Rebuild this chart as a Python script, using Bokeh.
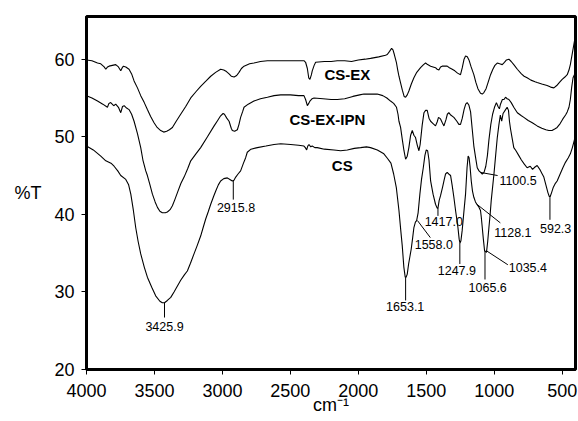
from bokeh.plotting import figure
from bokeh.models import Range1d, FixedTicker, ColumnDataSource
from bokeh.core.properties import value
from bokeh.embed import file_html
from bokeh.resources import INLINE

# ---------------- data ----------------
cs_ex_x = [4000,3960,3919,3895,3870,3858,3845,3834,3810,3785,3765,3748,3737,3728,3711,3687,3668,3650,3625,3601,
           3575,3552,3528,3503,3480,3454,3432,3410,3390,3368,3340,3307,3270,3233,3195,3160,3120,3086,3050,3013,
           2990,2970,2951,2935,2914,2895,2878,2860,2841,2800,2768,2720,2669,2600,2500,2430,2400,2388,2375,2365,
           2356,2345,2339,2325,2314,2250,2200,2155,2100,2050,2000,1950,1910,1850,1800,1787,1770,1755,1745,1735,
           1720,1710,1701,1690,1676,1663,1652,1640,1628,1610,1591,1570,1542,1520,1505,1490,1468,1450,1432,1420,
           1407,1395,1383,1365,1346,1330,1309,1290,1270,1248,1235,1222,1211,1198,1186,1170,1150,1135,1120,1101,
           1088,1076,1060,1045,1027,1010,995,978,960,941,925,910,892,875,856,830,800,780,758,730,
           700,684,650,611,585,561,540,520,500,480,463,450,440,430,420,410,402]
cs_ex_y = [59.9,59.8,59.5,59.4,59.0,58.7,59.0,59.1,59.2,59.3,59.0,58.5,58.9,59.1,59.0,58.7,58.1,57.2,56.3,55.3,
           54.4,53.5,52.6,51.8,51.2,50.8,50.6,50.7,50.9,51.2,52.0,52.9,53.9,55.0,55.8,56.5,57.2,57.8,58.3,58.7,
           58.6,58.4,58.1,57.8,57.7,57.9,58.3,58.8,59.1,59.4,59.5,59.7,59.8,59.8,59.8,59.8,59.8,59.6,58.8,57.6,
           57.4,58.0,58.5,59.2,59.6,59.7,59.7,59.8,59.8,59.7,59.9,60.0,60.1,60.3,60.5,60.6,61.0,61.4,61.2,60.6,
           59.6,58.6,57.8,57.0,56.0,55.2,55.1,55.4,55.9,56.8,57.6,58.3,58.9,59.3,59.5,59.3,59.1,59.0,58.9,58.7,
           58.6,59.0,59.1,59.1,59.1,58.9,58.7,58.5,58.2,58.0,58.9,60.0,60.4,60.3,59.9,59.0,58.0,57.0,56.2,55.6,
           55.5,55.7,56.2,57.0,58.0,58.7,59.2,59.5,59.4,59.3,59.6,59.9,60.0,59.7,59.3,58.7,58.1,57.8,57.6,57.3,
           57.1,57.0,56.8,56.6,56.4,56.3,56.6,57.0,57.4,57.7,58.0,58.6,59.3,60.3,61.3,62.3,63.0]

ipn_x = [4000,3960,3919,3880,3846,3835,3822,3800,3785,3765,3748,3735,3723,3705,3687,3668,3650,3625,3601,3585,
         3564,3552,3533,3515,3495,3478,3460,3442,3420,3405,3385,3368,3350,3331,3305,3282,3255,3233,3195,3160,
         3110,3061,3035,3013,2995,2985,2968,2951,2935,2927,2910,2890,2878,2866,2850,2841,2810,2768,2720,2669,
         2620,2571,2500,2440,2400,2388,2375,2365,2356,2340,2326,2260,2200,2155,2100,2040,1990,1959,1900,1861,
         1820,1790,1763,1740,1719,1708,1701,1689,1676,1664,1652,1640,1628,1615,1603,1591,1579,1566,1554,1545,
         1530,1517,1505,1493,1480,1468,1450,1432,1420,1410,1395,1382,1370,1355,1345,1334,1320,1297,1275,1260,
         1248,1235,1222,1210,1199,1187,1174,1162,1150,1137,1125,1112,1100,1088,1075,1062,1050,1039,1025,1012,
         998,984,972,962,954,940,928,917,905,892,875,856,830,800,782,750,720,684,650,620,
         598,575,555,537,515,495,475,463,450,440,430,420,410,402]
ipn_y = [55.3,55.0,54.6,54.2,53.8,54.3,54.4,54.0,54.2,53.8,53.1,53.9,54.0,53.7,53.5,52.9,52.0,50.4,48.6,47.0,
         45.6,45.0,43.8,42.6,41.6,40.9,40.4,40.2,40.2,40.3,40.6,41.1,41.9,42.8,44.0,44.8,45.9,46.9,47.8,48.6,
         50.0,51.4,52.1,52.7,53.0,52.9,52.4,52.0,51.1,50.8,50.7,50.9,51.6,52.5,53.3,53.8,54.2,54.6,54.9,55.1,
         55.3,55.4,55.4,55.3,55.3,54.8,54.0,54.3,54.6,54.9,55.0,54.9,54.8,54.8,54.9,55.2,55.4,55.5,55.5,55.5,
         55.3,55.0,54.6,54.3,53.8,52.9,52.0,51.2,49.6,48.2,47.1,47.5,48.6,50.2,50.8,50.2,49.9,48.9,48.2,49.0,
         51.5,53.1,53.4,53.4,52.4,52.0,51.7,51.4,51.9,52.5,52.3,51.8,51.4,52.2,52.9,53.1,52.8,52.5,52.0,51.6,
         51.6,52.4,53.5,54.2,54.4,54.1,53.2,51.0,48.8,47.3,46.0,45.6,45.4,45.2,45.4,46.2,47.6,49.6,51.6,52.9,
         53.8,54.4,53.9,53.6,54.2,54.8,54.8,55.1,54.9,54.8,54.4,53.8,53.1,52.7,52.5,52.1,51.8,51.4,51.1,50.9,
         50.8,50.8,51.0,51.2,51.7,52.3,52.8,53.2,53.8,54.8,56.4,57.6,58.0,58.6]

cs_x = [4000,3950,3895,3858,3820,3797,3770,3748,3711,3690,3674,3655,3638,3620,3601,3575,3552,3520,3491,3460,
        3442,3426,3405,3380,3356,3330,3307,3280,3258,3235,3209,3185,3160,3140,3123,3105,3086,3065,3049,3030,
        3013,2990,2964,2945,2927,2915,2902,2885,2866,2845,2829,2817,2790,2743,2680,2620,2571,2498,2440,2400,
        2390,2380,2372,2363,2350,2339,2320,2302,2250,2179,2130,2081,2030,1983,1940,1910,1860,1812,1785,1760,
        1740,1720,1701,1688,1677,1665,1655,1648,1640,1630,1620,1611,1600,1591,1580,1571,1560,1547,1535,1522,
        1510,1500,1490,1480,1468,1450,1432,1420,1414,1405,1395,1380,1370,1358,1346,1335,1321,1310,1297,1283,
        1267,1258,1252,1245,1236,1225,1211,1200,1192,1185,1178,1169,1160,1150,1138,1128,1115,1101,1095,1088,
        1080,1071,1064,1057,1048,1039,1030,1022,1012,1002,990,978,966,955,945,935,920,905,895,888,
        880,868,856,840,820,800,780,758,735,718,700,684,665,650,635,620,605,595,588,578,
        565,550,537,515,495,476,455,440,425,410,402]
cs_y = [48.8,48.3,47.5,46.9,46.6,46.2,45.6,45.0,44.5,43.8,42.6,40.5,38.3,36.5,34.9,33.2,31.9,30.6,29.5,28.8,
        28.6,28.6,28.9,29.3,30.0,30.8,31.5,32.2,32.7,33.7,34.9,36.0,37.2,38.4,39.4,40.3,41.3,42.3,43.0,43.8,
        44.3,44.6,44.7,44.5,44.3,44.4,44.8,45.2,45.6,46.6,47.3,48.0,48.4,48.6,48.8,49.0,49.1,49.0,48.9,48.8,
        48.6,48.3,48.8,49.0,48.7,48.8,48.6,48.6,48.4,48.3,48.2,48.3,48.5,48.6,48.7,48.6,48.3,47.8,47.2,46.6,
        45.2,43.4,40.5,38.0,36.0,33.2,31.9,31.9,32.3,33.6,34.6,35.5,37.0,38.3,39.0,39.2,40.2,42.6,44.5,46.0,
        47.6,48.3,48.2,47.0,44.3,42.6,41.3,40.8,40.8,41.8,42.4,43.5,44.3,45.2,45.4,45.2,45.0,43.8,42.2,40.3,
        38.3,36.8,36.3,36.6,37.9,40.0,42.6,46.0,47.5,47.3,46.2,44.3,43.0,42.2,41.6,41.3,41.0,40.5,39.6,38.3,
        36.8,35.3,35.2,35.1,36.5,38.3,40.0,41.8,43.5,45.2,47.5,49.8,51.5,52.8,52.0,53.0,53.4,53.8,53.4,52.0,
        51.0,49.8,48.6,48.2,47.6,47.0,46.5,46.0,46.2,45.8,46.1,46.3,45.8,45.3,44.8,43.8,42.8,42.3,42.3,42.8,
        43.5,44.0,44.3,45.2,46.0,46.7,47.3,47.8,48.6,49.6,50.3]

series_names = ["CS-EX", "CS-EX-IPN", "CS"]
x_ticks = [4000, 3500, 3000, 2500, 2000, 1500, 1000, 500]
y_ticks = [20, 30, 40, 50, 60]

# peak annotations: text, peak position on the curve
peak_text = ["3425.9", "2915.8", "1653.1", "1558.0", "1417.0", "1247.9",
             "1128.1", "1100.5", "1065.6", "1035.4", "592.3"]
peak_x = [3426, 2920, 1652, 1565, 1414, 1253, 1128, 1100, 1068, 1057, 590]
peak_y = [28.6, 44.3, 31.9, 39.2, 40.8, 36.3, 41.3, 45.4, 35.3, 35.3, 42.3]

# ---------------- layout of annotation texts ----------------
lead_x1 = [3426, 2920, 1652, 1470, 1414, 1253, 955, 975, 1068, 900, 590]
lead_y1 = [26.7, 41.9, 28.9, 37.0, 39.8, 33.6, 38.9, 45.0, 31.6, 33.5, 39.3]
text_x = [3426, 2900, 1655, 1585, 1512, 1275, 1000, 962, 1048, 893, 548]
text_y = [25.6, 40.9, 28.1, 36.1, 39.1, 32.7, 37.6, 44.4, 30.6, 33.2, 38.2]
text_al = ["center", "center", "center", "left", "left", "center",
           "left", "left", "center", "left", "center"]

name_x = [2081, 2228, 2118]
name_y = [58.05, 52.26, 46.3]

FONT = "Liberation Sans"

p = figure(width=578, height=421, output_backend="svg", toolbar_location=None,
           x_range=Range1d(4000, 402), y_range=Range1d(20, 65.5),
           min_border_left=86, min_border_right=3, min_border_top=16, min_border_bottom=52)
p.background_fill_color = "white"
p.border_fill_color = "white"
p.outline_line_color = "black"
p.outline_line_width = 3
p.xgrid.visible = False
p.ygrid.visible = False

for ax, ticks in ((p.xaxis, x_ticks), (p.yaxis, y_ticks)):
    ax.ticker = FixedTicker(ticks=ticks)
    ax.minor_tick_line_color = None
    ax.major_tick_in = 0
    ax.major_tick_out = 5
    ax.major_tick_line_color = "black"
    ax.major_tick_line_width = 1
    ax.axis_line_width = 3
    ax.axis_line_color = "black"
    ax.major_label_text_font = FONT
    ax.major_label_text_font_size = "18px"
    ax.major_label_text_color = "black"
    ax.axis_label_text_font = FONT
    ax.axis_label_text_font_size = "18px"
    ax.axis_label_text_font_style = "normal"
    ax.axis_label_text_color = "black"
p.xaxis.major_label_standoff = 9
p.yaxis.major_label_standoff = 7

p.xaxis.axis_label = "cm\u207b\u00b9"
p.xaxis.axis_label_standoff = -5
p.yaxis.axis_label = "%T"
p.yaxis.axis_label_standoff = 10
try:
    p.yaxis.axis_label_orientation = "horizontal"
except Exception:
    pass

for xs, ys in ((cs_ex_x, cs_ex_y), (ipn_x, ipn_y), (cs_x, cs_y)):
    p.line(xs, ys, line_color="black", line_width=1.1)

# series names
p.text(x=name_x, y=name_y, text=series_names, text_font=value(FONT),
       text_font_size=value("15px"), text_font_style="bold", text_align="center",
       text_baseline="middle", text_color="black")

# leaders and peak labels
p.segment(x0=peak_x, y0=peak_y, x1=lead_x1, y1=lead_y1, line_color="black", line_width=1)
src = ColumnDataSource(dict(x=text_x, y=text_y, t=peak_text, a=text_al))
p.text(x="x", y="y", text="t", text_align="a", source=src, text_font=value(FONT),
       text_font_size=value("12.5px"), text_baseline="middle", text_color="black")

open("out.html", "w").write(file_html(p, INLINE))
